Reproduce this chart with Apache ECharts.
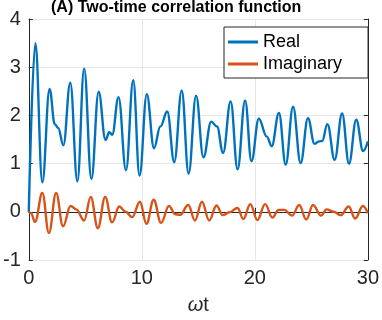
<!DOCTYPE html>
<html>
<head>
<meta charset="utf-8">
<script src="https://cdn.jsdelivr.net/npm/echarts@6/dist/echarts.min.js"></script>
<style>
	html, body { margin: 0; padding: 0; background: #fff; }
	#chart { width: 382px; height: 320px; }
</style>
</head>
<body>
<div id="chart"></div>
<script>
// extrema (omega*t, value)
var realT = [0, 0.58, 1.2, 1.84, 2.3, 2.6, 3.06, 3.67, 4.3, 4.9, 5.54, 6.18, 6.79, 7.12, 7.38, 7.94, 8.6, 9.24, 9.8,
	10.44, 11.08, 11.64, 12.25, 12.87, 13.53, 14.14, 14.8, 15.45, 16.14, 16.65, 17.19, 17.86, 18.47, 19.14, 19.7,
	20.35, 21.06, 21.49, 22.13, 22.73, 23.38, 24.05, 24.7, 25.28, 25.66, 25.96, 26.42, 27.06, 27.72, 28.33, 28.97, 29.58, 30];
var realV = [0, 3.5, 0.61, 2.55, 1.82, 1.74, 1.38, 2.68, 0.63, 2.97, 0.68, 2.49, 1.49, 1.65, 1.6, 2.38, 0.86, 2.73, 0.75,
	2.44, 1.32, 1.77, 2.08, 1.03, 2.52, 0.79, 2.41, 1.13, 1.87, 1.77, 1.22, 2.29, 0.88, 2.31, 1.05,
	1.93, 1.56, 1.36, 2.05, 0.98, 2.18, 1.01, 1.94, 1.41, 1.46, 1.47, 1.82, 1.08, 2.04, 1.0, 1.91, 1.26, 1.46];

var imagT = [0, 0.2, 0.55, 1.2, 1.78, 2.42, 3.03, 3.7, 4.2, 4.9, 5.48, 6.11, 6.76, 7.37, 8.0, 8.56, 9.15, 9.83,
	10.41, 11.05, 11.7, 12.4, 12.95, 13.4, 14.11, 14.7, 15.32, 15.96, 16.61, 17.16, 17.75, 18.47, 18.98, 19.6,
	20.22, 20.91, 21.55, 22.1, 22.6, 23.3, 23.92, 24.55, 25.15, 25.85, 26.35, 26.98, 27.6, 28.3, 28.88, 29.56, 30];
var imagV = [0, -0.03, -0.21, 0.39, -0.44, 0.39, -0.3, 0.12, 0.05, -0.18, 0.31, -0.34, 0.31, -0.22, 0.11, 0.0, -0.11, 0.21,
	-0.25, 0.25, -0.23, 0.12, -0.05, -0.06, 0.14, -0.18, 0.21, -0.18, 0.13, -0.07, -0.01, 0.08, -0.15, 0.16,
	-0.17, 0.16, -0.12, 0.04, 0.04, -0.08, 0.14, -0.16, 0.14, -0.08, 0.05, 0.0, -0.07, 0.11, -0.14, 0.12, -0.03];

var xTicks = [0, 10, 20, 30];
var yTicks = [-1, 0, 1, 2, 3, 4];

function pairs(t, v) {
	var out = [];
	for (var i = 0; i < t.length; i++) out.push([t[i], v[i]]);
	return out;
}

var axisColor = '#262626';
var font = 'Liberation Sans, Arial, Helvetica, sans-serif';

function xAx(pos) {
	return {
		type: 'value', position: pos, min: xTicks[0], max: xTicks[xTicks.length - 1], interval: 10,
		axisLine: { show: true, lineStyle: { color: axisColor, width: 1 } },
		axisTick: { show: true, inside: true, length: 4, lineStyle: { color: axisColor } },
		axisLabel: { show: pos === 'bottom', color: '#262626', fontSize: 20, fontFamily: font, margin: 8 },
		splitLine: { show: pos === 'bottom', lineStyle: { color: '#e6e6e6', width: 1 } },
		name: pos === 'bottom' ? '{i|ω}t' : '',
		nameLocation: 'middle', nameGap: 35,
		nameTextStyle: { color: '#262626', fontSize: 20, fontFamily: font, rich: { i: { fontStyle: 'italic', fontSize: 20, fontFamily: font, color: '#262626' } } }
	};
}
function yAx(pos) {
	return {
		type: 'value', position: pos, min: yTicks[0], max: yTicks[yTicks.length - 1], interval: 1,
		axisLine: { show: true, onZero: false, lineStyle: { color: axisColor, width: 1 } },
		axisTick: { show: true, inside: true, length: 4, lineStyle: { color: axisColor } },
		axisLabel: { show: pos === 'left', color: '#262626', fontSize: 20, fontFamily: font, margin: 8 },
		splitLine: { show: pos === 'left', lineStyle: { color: '#e6e6e6', width: 1 } }
	};
}

var chart = echarts.init(document.getElementById('chart'), null, { renderer: 'canvas' });
chart.setOption({
	animation: false,
	backgroundColor: '#fff',
	title: {
		text: '(A) Two-time correlation function',
		left: 51, top: 0, padding: 0,
		textStyle: { fontSize: 16, fontWeight: 'bold', color: '#000', fontFamily: font }
	},
	grid: { left: 27, right: 13, top: 19, bottom: 56 },
	legend: {
		orient: 'vertical', left: 224, top: 27,
		padding: [6, 26, 5, 4], itemGap: 4, itemWidth: 30, itemHeight: 3,
		icon: 'rect',
		backgroundColor: '#fff', borderColor: axisColor, borderWidth: 1, borderRadius: 0,
		textStyle: { fontSize: 18, fontFamily: font, color: '#000' },
		data: ['Real', 'Imaginary']
	},
	xAxis: [xAx('bottom'), xAx('top')],
	yAxis: [yAx('left'), yAx('right')],
	series: [
		{
			name: 'Real', type: 'line', data: pairs(realT, realV),
			smooth: 0.4, smoothMonotone: 'x', showSymbol: false,
			lineStyle: { color: '#0072BD', width: 2.4 }, itemStyle: { color: '#0072BD' }
		},
		{
			name: 'Imaginary', type: 'line', data: pairs(imagT, imagV),
			smooth: 0.4, smoothMonotone: 'x', showSymbol: false,
			lineStyle: { color: '#D95319', width: 2.4 }, itemStyle: { color: '#D95319' }
		}
	]
});
</script>
</body>
</html>
